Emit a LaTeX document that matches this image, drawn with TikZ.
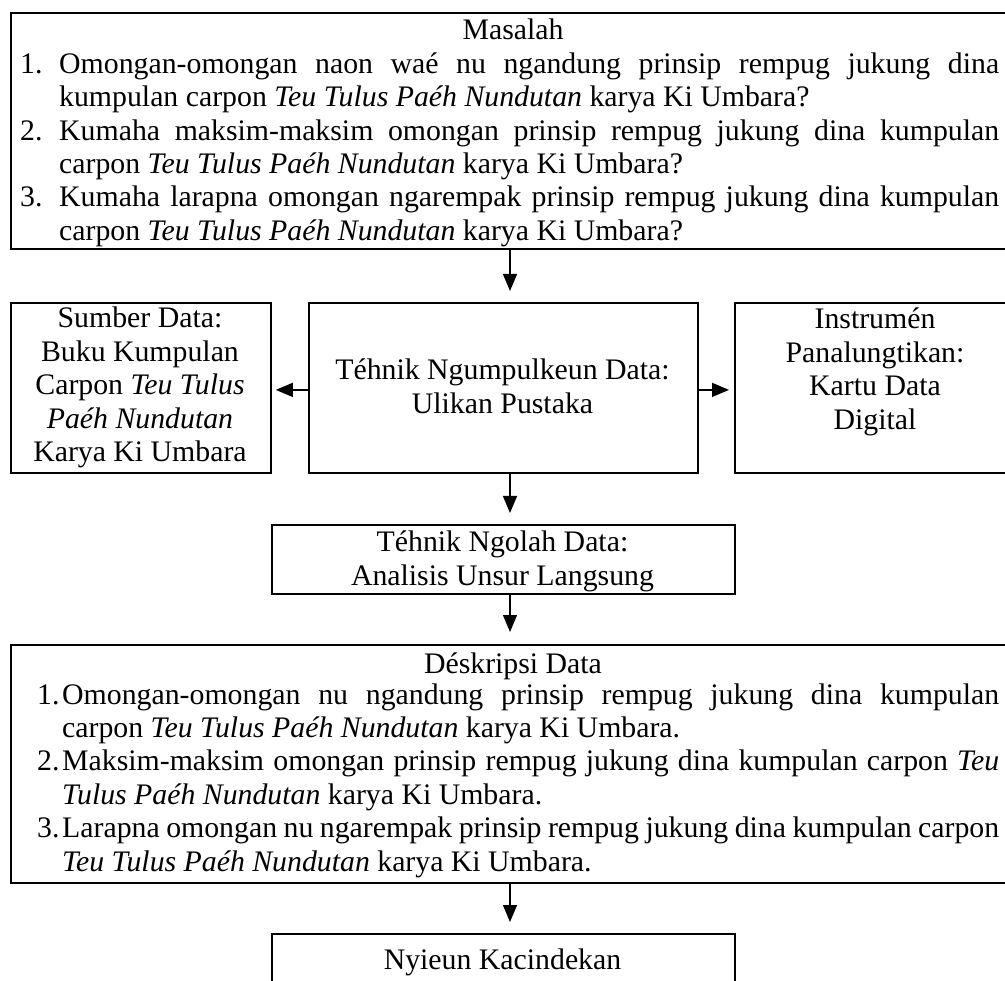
\documentclass[tikz,border=0pt]{standalone}
\usepackage{fontspec}
\setmainfont{Liberation Serif}
\usetikzlibrary{arrows.meta}
\newcommand\diafs{\fontsize{29.8pt}{33.4pt}\selectfont}
\begin{document}
\begin{tikzpicture}[x=1pt,y=-1pt,
  box/.style={draw, line width=1.8pt, inner sep=0pt, anchor=north west},
  txt/.style={inner sep=0pt, anchor=base, font=\diafs},
  arr/.style={line width=1.3pt, -{Triangle[length=17pt,width=14pt]}}]
\useasboundingbox (0,0) rectangle (1005,981);
\clip (0,0) rectangle (1005,981);
% boxes
\node[box, minimum width=1006pt, minimum height=236pt] (masalah) at (10,12) {};
\node[box, minimum width=260pt, minimum height=170pt] (sumber) at (10,302) {};
\node[box, minimum width=389pt, minimum height=170pt] (ngumpul) at (308,302) {};
\node[box, minimum width=282pt, minimum height=170pt] (instrumen) at (734,302) {};
\node[box, minimum width=463pt, minimum height=69pt] (ngolah) at (271,524) {};
\node[box, minimum width=1006pt, minimum height=238pt] (deskripsi) at (10,644) {};
\node[box, minimum width=463pt, minimum height=120pt] (nyieun) at (271,933) {};
% texts
\node[txt] (masalahttl) at (513,40) {Masalah};
\node[txt, anchor=base west] (masalahlist) at (20,73.4) {\parbox[t]{979pt}{\parindent=0pt
\makebox[39pt][l]{1.}\makebox[940pt][s]{Omongan-omongan naon waé nu ngandung prinsip rempug jukung dina}\par
\hspace*{39pt}kumpulan carpon \textit{Teu Tulus Paéh Nundutan} karya Ki Umbara?\par
\makebox[39pt][l]{2.}\makebox[940pt][s]{Kumaha maksim-maksim omongan prinsip rempug jukung dina kumpulan}\par
\hspace*{39pt}carpon \textit{Teu Tulus Paéh Nundutan} karya Ki Umbara?\par
\makebox[39pt][l]{3.}\makebox[940pt][s]{Kumaha larapna omongan ngarempak prinsip rempug jukung dina kumpulan}\par
\hspace*{39pt}carpon \textit{Teu Tulus Paéh Nundutan} karya Ki Umbara?}};
\node[txt] (sumbertxt) at (140,328) {\parbox[t]{260pt}{\centering Sumber Data:\\ Buku Kumpulan\\ Carpon \textit{Teu Tulus}\\ \textit{Paéh Nundutan}\\ Karya Ki Umbara}};
\node[txt] (ngumpultxt) at (502.5,380) {\parbox[t]{389pt}{\centering Téhnik Ngumpulkeun Data:\\ Ulikan Pustaka}};
\node[txt] (instrumentxt) at (875,329) {\parbox[t]{282pt}{\centering Instrumén\\ Panalungtikan:\\ Kartu Data\\ Digital}};
\node[txt] (ngolahtxt) at (502.5,552) {\parbox[t]{463pt}{\centering Téhnik Ngolah Data:\\ Analisis Unsur Langsung}};
\node[txt] (deskripsittl) at (513,673) {Déskripsi Data};
\node[txt, anchor=base west] (deskripsilist) at (37,704) {\parbox[t]{962pt}{\parindent=0pt
\makebox[25pt][l]{1.}\makebox[937pt][s]{Omongan-omongan nu ngandung prinsip rempug jukung dina kumpulan}\par
\hspace*{25pt}carpon \textit{Teu Tulus Paéh Nundutan} karya Ki Umbara.\par
\makebox[25pt][l]{2.}\makebox[937pt][s]{Maksim-maksim omongan prinsip rempug jukung dina kumpulan carpon \textit{Teu}}\par
\hspace*{25pt}\textit{Tulus Paéh Nundutan} karya Ki Umbara.\par
\makebox[25pt][l]{3.}\makebox[937pt][s]{Larapna omongan nu ngarempak prinsip rempug jukung dina kumpulan carpon}\par
\hspace*{25pt}\textit{Teu Tulus Paéh Nundutan} karya Ki Umbara.}};
\node[txt] (nyieuntxt) at (502.5,969) {Nyieun Kacindekan};
% connectors
\coordinate (ax) at (510,0);
\draw[arr, shorten >=11pt] (masalah.south -| ax) -- (ngumpul.north -| ax);
\draw[arr, shorten >=4pt] (ngumpul.west) ++(0,2) coordinate (lw) (lw) -- (lw -| sumber.east);
\draw[arr, shorten >=5pt] (ngumpul.east) ++(0,2) coordinate (rw) (rw) -- (rw -| instrumen.west);
\draw[arr, shorten >=11pt] (ngumpul.south -| ax) -- (ngolah.north -| ax);
\draw[arr, shorten >=12pt] (ngolah.south -| ax) -- (deskripsi.north -| ax);
\draw[arr, shorten >=11pt] (deskripsi.south -| ax) -- (nyieun.north -| ax);
\end{tikzpicture}
\end{document}
